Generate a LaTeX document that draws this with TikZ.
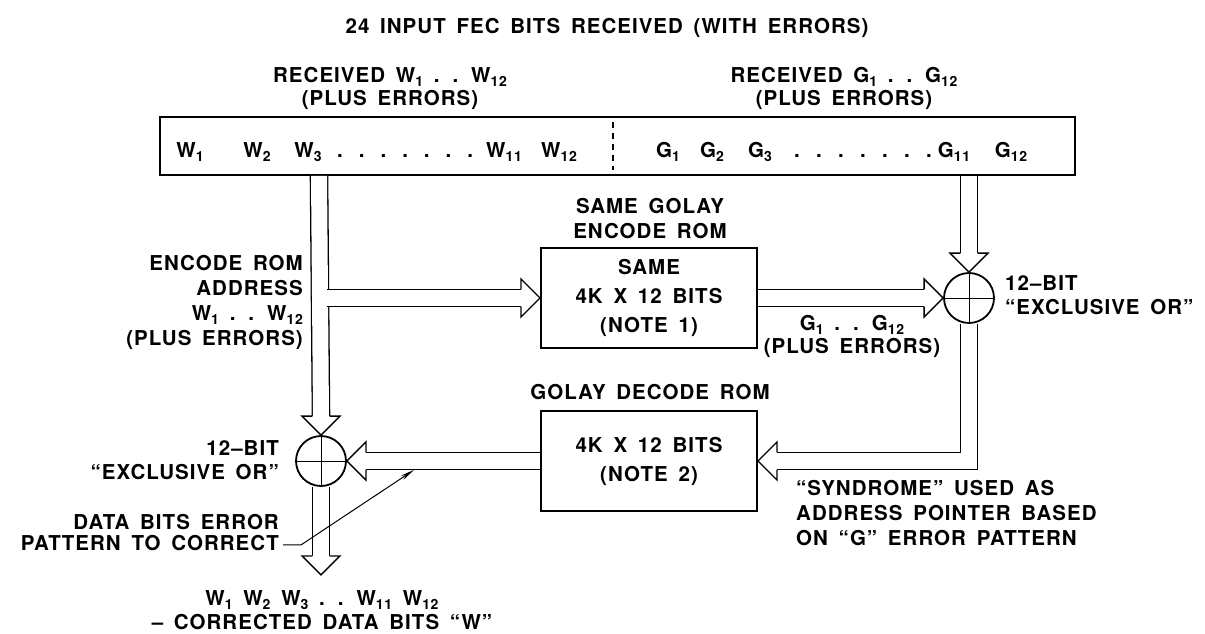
\documentclass[tikz,border=0pt]{standalone}
\usepackage{fontspec}
\setmainfont{TeX Gyre Heros}[LetterSpace=5,WordSpace=1.6]
\usetikzlibrary{positioning}
\usetikzlibrary{calc}
\usetikzlibrary{arrows.meta}

\newcommand{\sbs}[1]{\raisebox{-4pt}{\fontsize{14}{14}\selectfont #1}}

\begin{document}
\begin{tikzpicture}[x=1pt, y=-1pt, node distance=6pt,
    every node/.style={font=\bfseries\fontsize{20.5}{24}\selectfont, inner sep=0pt},
    rom/.style={draw, line width=2pt, minimum width=216pt, minimum height=100pt,
                align=center, font=\bfseries\fontsize{20.5}{29}\selectfont},
    xor/.style={draw, circle, line width=1.8pt, minimum size=50pt},
    bus/.style={line width=1.3pt, double=white, double distance=16pt, line join=miter},
    pointer/.style={line width=1pt, -{Stealth[length=14pt, width=5pt]}},
    pics/bushead/.style={code={\filldraw[fill=white, line width=1.3pt, line join=miter]
        (-19,-8.65) -- (-19,-19) -- (0,0) -- (-19,19) -- (-19,8.65);}}]

  \useasboundingbox (0,0) rectangle (1205,634);

  % received 24 bits
  \node (title) at (607,28) {24 INPUT FEC BITS RECEIVED (WITH ERRORS)};
  \node[draw, line width=1.8pt, minimum width=915pt, minimum height=58pt] (frame) at (617.5,146) {};
  \node[align=center, font=\bfseries\fontsize{20.5}{23}\selectfont] (recw) at (390,88)
       {RECEIVED W\sbs{1} . . W\sbs{12}\\(PLUS ERRORS)};
  \node[align=center, font=\bfseries\fontsize{20.5}{23}\selectfont] (recg) at (844,88)
       {RECEIVED G\sbs{1} . . G\sbs{12}\\(PLUS ERRORS)};
  \draw[line width=1.2pt, dash pattern=on 6pt off 5pt]
       ($(frame.north)+(-4.5,6)$) -- ($(frame.south)+(-4.5,-6)$);

  \foreach \x/\t [count=\i] in {190/W\sbs{1}, 257/W\sbs{2}, 308/W\sbs{3}, 504/W\sbs{11}, 559/W\sbs{12},
                                668/G\sbs{1}, 712/G\sbs{2}, 760/G\sbs{3}, 954/G\sbs{11}, 1011/G\sbs{12}}
    \node[anchor=base] (b\i) at (\x,157) {\t};
  \foreach \k in {0,...,6} {
    \node[anchor=base] (wd\k) at (340+21.7*\k,157) {.};
    \node[anchor=base] (gd\k) at (797+22*\k,157) {.};
  }

  % golay roms and xor gates
  \node[rom] (enc) at (649,298) {SAME\\4K X 12 BITS\\(NOTE 1)};
  \node[align=center, font=\bfseries\fontsize{20.5}{25}\selectfont] (enclbl) at (650,218.5)
       {SAME GOLAY\\ENCODE ROM};
  \node[rom] (dec) at (649,461) {4K X 12 BITS\\(NOTE 2)};
  \node (declbl) at (650,392) {GOLAY DECODE ROM};
  \node[xor] (xr) at (969,298) {};
  \node[xor] (xl) at (321,461) {};
  \draw[line width=1pt] (xr.north) -- (xr.south) (xr.west) -- (xr.east);
  \draw[line width=0.8pt] (xl.north) -- (xl.south) (xl.west) -- (xl.east);

  % labels
  \node[anchor=east, align=right, font=\bfseries\fontsize{20.5}{25}\selectfont] (addr) at (303,302)
       {ENCODE ROM\\ADDRESS\\W\sbs{1} . . W\sbs{12}\\(PLUS ERRORS)};
  \node[align=center, font=\bfseries\fontsize{20.5}{23}\selectfont] (gpe) at (852,336)
       {G\sbs{1} . . G\sbs{12}\\(PLUS ERRORS)};
  \node[anchor=west, align=left] (xrlbl) at (1005,295) {12--BIT\\``EXCLUSIVE OR''};
  \node[anchor=east, align=right] (xllbl) at (279,460) {12--BIT\\``EXCLUSIVE OR''};
  \node[anchor=east, align=right, font=\bfseries\fontsize{20.5}{21}\selectfont] (pat) at (279,532.5)
       {DATA BITS ERROR\\PATTERN TO CORRECT};
  \node[anchor=west, align=left, font=\bfseries\fontsize{20.5}{25}\selectfont] (syn) at (796,513)
       {``SYNDROME'' USED AS\\ADDRESS POINTER BASED\\ON ``G'' ERROR PATTERN};
  \node[align=center] (outlbl) at (322,610)
       {W\sbs{1} W\sbs{2} W\sbs{3} . . W\sbs{11} W\sbs{12}\\-- CORRECTED DATA BITS ``W''};

  \coordinate (wtap) at (319,0);
  \coordinate[below=88pt of xl] (out);
  \coordinate (hit) at ($(xl.east)+(67,9)$);

  % 12-bit buses
  \draw[bus] (wtap |- frame.south) -- ($(xl.north)+(0,-19)$);
  \draw[bus] ($(wtap |- enc.west)+(8,0)$) -- ($(enc.west)+(-19,0)$);
  \draw[bus] (xr |- frame.south) -- ($(xr.north)+(0,-19)$);
  \draw[bus] (enc.east) -- ($(xr.west)+(-19,0)$);
  \draw[bus] (xr.south) -- (xr.south |- dec.east) -- ($(dec.east)+(19,0)$);
  \draw[bus] (dec.west) -- ($(xl.east)+(19,0)$);
  \draw[bus] (xl.south) -- ($(out)+(0,-19)$);

  \pic[rotate=-90] at (xl.north) {bushead};
  \pic at (enc.west) {bushead};
  \pic[rotate=-90] at (xr.north) {bushead};
  \pic at (xr.west) {bushead};
  \pic[rotate=180] at (dec.east) {bushead};
  \pic[rotate=180] at (xl.east) {bushead};
  \pic[rotate=-90] at (out) {bushead};

  \draw[pointer] ($(pat.south east)+(4,-6)$) -- ++(18,0) -- (hit);

\end{tikzpicture}
\end{document}
